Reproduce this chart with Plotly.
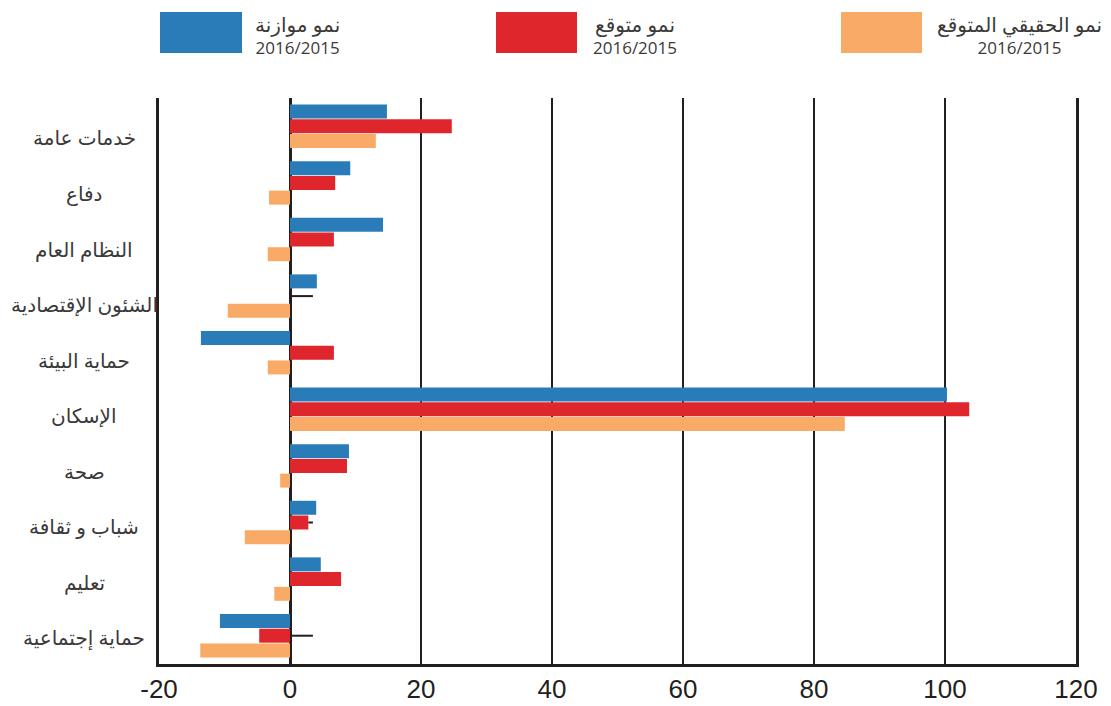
import plotly.graph_objects as go

# Spending categories (top to bottom)
categories = [
    "خدمات عامة",
    "دفاع",
    "النظام العام",
    "الشئون الإقتصادية",
    "حماية البيئة",
    "الإسكان",
    "صحة",
    "شباب و ثقافة",
    "تعليم",
    "حماية إجتماعية",
]

# Growth rates (%)
budget_growth = [14.8, 9.2, 14.2, 4.1, -13.6, 100.3, 9.0, 4.0, 4.7, -10.7]
expected_growth = [24.7, 6.9, 6.7, 0.0, 6.7, 103.7, 8.7, 2.8, 7.8, -4.7]
real_expected_growth = [13.1, -3.2, -3.4, -9.5, -3.4, 84.7, -1.5, -6.9, -2.4, -13.7]

# Short leader marks drawn at the centre of some groups
leader_rows = [3, 7, 9]
leader_end = [3.5, 3.5, 3.5]

series_names = ["نمو موازنة", "نمو متوقع", "نمو الحقيقي المتوقع"]
period_label = "2016/2015"
colors = ["#2a7cb9", "#df262c", "#f9aa66"]

x_ticks = [-20, 0, 20, 40, 60, 80, 100, 120]

INK = "#231f20"
TEXT = "#3a3a3a"
AR_FONT = "Open Sans, DejaVu Sans, sans-serif"

positions = list(range(len(categories)))

fig = go.Figure()
for name, vals, col in zip(series_names, [budget_growth, expected_growth, real_expected_growth], colors):
    fig.add_trace(go.Bar(
        y=positions, x=vals, orientation="h", name=name,
        marker=dict(color=col, line=dict(width=0)),
        showlegend=False, hoverinfo="x",
    ))

# leader marks start where the middle bar ends (never inside it)
lx, ly = [], []
for r, e in zip(leader_rows, leader_end):
    start = max(expected_growth[r], 0)
    lx += [start, e, None]
    ly += [r, r, None]
fig.add_trace(go.Scatter(x=lx, y=ly, mode="lines", line=dict(color=INK, width=2),
                         showlegend=False, hoverinfo="skip"))

# plot-area geometry in pixels
L, R, T, B = 159, 1076, 98, 664
W, H = R - L, B - T


def px_x(p):
    return (p - L) / W


def px_y(p):
    return (B - p) / H


# legend: coloured boxes with two-line captions
legend_boxes = [(160, 242), (496, 577), (841, 922)]
caption_centres = [297, 635, 1019]
for (x0, x1), cx, name, col in zip(legend_boxes, caption_centres, series_names, colors):
    fig.add_shape(type="rect", xref="paper", yref="paper",
                  x0=px_x(x0), x1=px_x(x1), y0=px_y(53), y1=px_y(12),
                  fillcolor=col, line=dict(width=0))
    fig.add_annotation(xref="paper", yref="paper", x=px_x(cx), y=px_y(35),
                       text=f"<span style='font-size:20px'>{name}</span><br>{period_label}",
                       showarrow=False, xanchor="center", yanchor="middle", align="center",
                       font=dict(family=AR_FONT, size=17, color=TEXT))

# category labels, evenly spaced in the left margin
label_top, label_step = 138, 55.5
for i, c in enumerate(categories):
    fig.add_annotation(xref="paper", yref="paper", x=px_x(84), y=px_y(label_top + label_step * i),
                       text=c, showarrow=False, xanchor="center", yanchor="middle",
                       font=dict(family=AR_FONT, size=20, color=TEXT))

fig.update_layout(
    width=1111, height=706,
    margin=dict(l=L, r=1111 - R, t=T, b=706 - B, pad=0),
    paper_bgcolor="white", plot_bgcolor="white",
    barmode="group", bargap=0.22, bargroupgap=0.05,
    xaxis=dict(
        range=[-20, 120], tickvals=x_ticks, ticktext=[str(v) for v in x_ticks],
        showgrid=True, gridcolor=INK, gridwidth=2,
        zeroline=True, zerolinecolor=INK, zerolinewidth=3,
        showline=True, linecolor=INK, linewidth=3,
        ticks="", ticklabelstandoff=0, automargin=False,
        tickfont=dict(family="Liberation Sans Narrow, Liberation Sans, sans-serif", size=26, color=INK),
        fixedrange=True,
    ),
    yaxis=dict(
        range=[9.5, -0.5], showticklabels=False, showgrid=False, zeroline=False,
        showline=True, linecolor=INK, linewidth=3, mirror=True, ticks="",
        automargin=False, fixedrange=True,
    ),
)

fig.write_html("out.html", config={"displayModeBar": False})
